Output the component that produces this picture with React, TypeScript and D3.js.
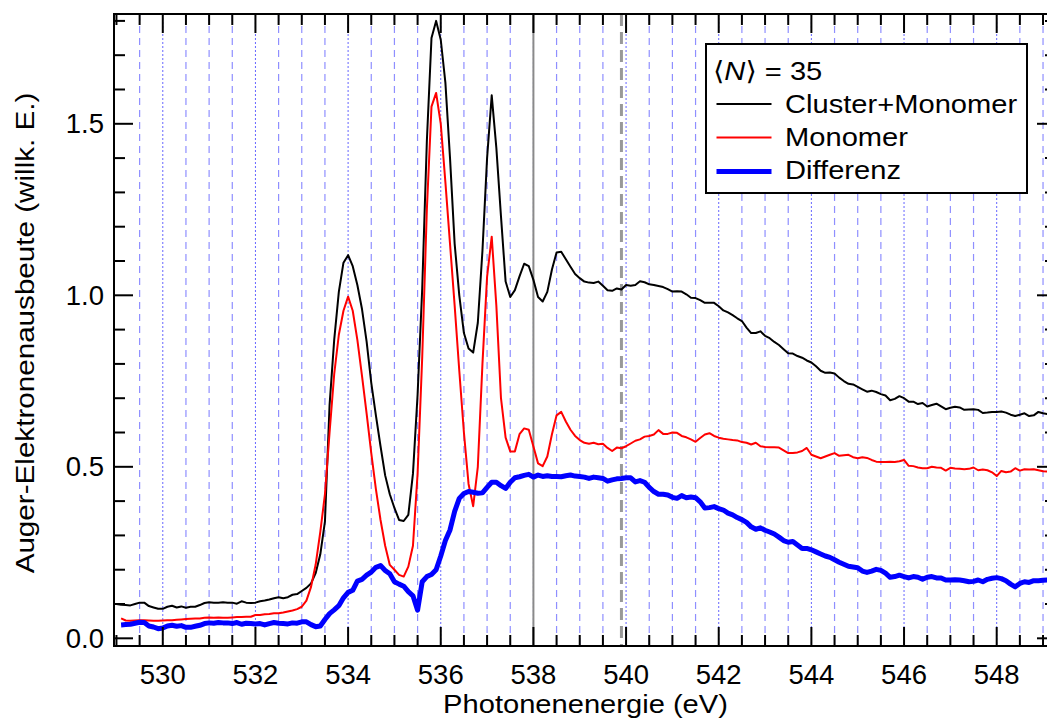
import React from "react";
import * as d3 from "d3";

// Sampling grid (eV): first energy and step
const E_START = 528.9;
const E_STEP = 0.1;

// Cluster+Monomer (black)
const clusterMonomer: (number | null)[] = [
  0.100,
  0.100, 0.098, 0.097, 0.096, 0.100, 0.104, 0.104, 0.094, 0.090, 0.086, // 529.0-529.9
  0.086, 0.092, 0.095, 0.090, 0.093, 0.089, 0.092, 0.092, 0.097, 0.103, // 530
  0.105, 0.104, 0.104, 0.105, 0.104, 0.104, 0.101, 0.108, 0.104, 0.103, // 531
  0.104, 0.108, 0.110, 0.113, 0.117, 0.120, 0.117, 0.120, 0.127, 0.129, // 532
  0.138, 0.147, 0.160, 0.190, 0.245, 0.340, 0.680, 0.870, 1.010, 1.095, // 533
  1.117, 1.085, 1.030, 0.960, 0.865, 0.745, 0.650, 0.560, 0.475, 0.420, // 534
  0.380, 0.345, 0.342, 0.360, 0.480, 0.710, 1.020, 1.450, 1.750, 1.800, // 535
  1.745, 1.620, 1.400, 1.150, 1.000, 0.890, 0.845, 0.833, 0.920, 1.130, // 536
  1.400, 1.583, 1.430, 1.230, 1.040, 0.995, 1.015, 1.055, 1.092, 1.085, // 537
  1.045, 0.995, 0.982, 1.010, 1.075, 1.125, 1.127, 1.105, 1.083, 1.062, // 538
  1.050, 1.040, 1.037, 1.036, 1.040, 1.028, 1.015, 1.013, 1.020, 1.017, // 539
  1.030, 1.028, 1.030, 1.041, 1.038, 1.032, 1.030, 1.027, 1.024, 1.018, // 540
  1.011, 1.012, 1.011, 1.003, 0.993, 0.992, 0.986, 0.978, 0.978, 0.978, // 541
  0.968, 0.956, 0.950, 0.942, 0.933, 0.925, 0.906, 0.890, 0.890, 0.895, // 542
  0.882, 0.875, 0.864, 0.855, 0.843, 0.831, 0.830, 0.823, 0.818, 0.810, // 543
  0.804, 0.793, 0.780, 0.774, 0.775, 0.772, 0.760, 0.750, 0.742, 0.740, // 544
  0.733, 0.726, 0.719, 0.722, 0.718, 0.712, 0.708, 0.694, 0.698, 0.706, // 545
  0.700, 0.690, 0.690, 0.683, 0.686, 0.676, 0.680, 0.684, 0.676, 0.668, // 546
  0.672, 0.675, 0.673, 0.666, 0.667, 0.668, 0.666, 0.657, 0.658, 0.660, // 547
  0.660, 0.661, 0.658, 0.652, 0.648, 0.652, 0.656, 0.648, 0.650, 0.660, // 548
  0.656, 0.654, 0.652, 0.655, // 549.0-549.3
];

// Monomer (red)
const monomer: (number | null)[] = [
  null,
  null, 0.058, 0.052, 0.051, 0.052, 0.053, 0.053, 0.052, 0.051, 0.051, // 529
  0.052, 0.053, 0.053, 0.054, 0.055, 0.056, 0.057, 0.058, 0.058, 0.060, // 530
  0.061, 0.060, 0.061, 0.060, 0.060, 0.061, 0.062, 0.062, 0.063, 0.063, // 531
  0.068, 0.068, 0.070, 0.071, 0.073, 0.073, 0.075, 0.078, 0.081, 0.085, // 532
  0.092, 0.110, 0.150, 0.215, 0.310, 0.420, 0.600, 0.770, 0.885, 0.955, // 533
  0.996, 0.955, 0.870, 0.765, 0.655, 0.540, 0.435, 0.345, 0.270, 0.214, // 534
  0.200, 0.185, 0.180, 0.209, 0.270, 0.480, 0.820, 1.250, 1.550, 1.590, // 535
  1.500, 1.330, 1.150, 0.970, 0.780, 0.600, 0.450, 0.385, 0.500, 0.800, // 536
  1.054, 1.171, 0.970, 0.700, 0.585, 0.545, 0.545, 0.595, 0.612, 0.608, // 537
  0.559, 0.510, 0.502, 0.530, 0.595, 0.650, 0.660, 0.632, 0.608, 0.590, // 538
  0.578, 0.570, 0.567, 0.570, 0.566, 0.567, 0.555, 0.546, 0.556, 0.554, // 539
  0.560, 0.568, 0.576, 0.580, 0.588, 0.590, 0.594, 0.607, 0.596, 0.596, // 540
  0.600, 0.599, 0.590, 0.586, 0.580, 0.573, 0.584, 0.594, 0.598, 0.590, // 541
  0.585, 0.582, 0.580, 0.578, 0.577, 0.572, 0.570, 0.565, 0.570, 0.560, // 542
  0.558, 0.557, 0.557, 0.556, 0.548, 0.540, 0.540, 0.542, 0.546, 0.555, // 543
  0.535, 0.530, 0.525, 0.530, 0.535, 0.540, 0.532, 0.534, 0.535, 0.528, // 544
  0.525, 0.528, 0.526, 0.520, 0.515, 0.514, 0.514, 0.515, 0.514, 0.516, // 545
  0.520, 0.503, 0.502, 0.498, 0.496, 0.496, 0.500, 0.498, 0.497, 0.489, // 546
  0.497, 0.495, 0.494, 0.493, 0.494, 0.498, 0.490, 0.492, 0.490, 0.484, // 547
  0.473, 0.488, 0.484, 0.486, 0.496, 0.489, 0.493, 0.492, 0.493, 0.490, // 548
  0.487, 0.486, 0.488, 0.487, // 549
];

// Differenz (blue)
const differenz: (number | null)[] = [
  null,
  null, 0.039, 0.040, 0.041, 0.044, 0.047, 0.046, 0.036, 0.033, 0.028, // 529
  0.030, 0.036, 0.038, 0.035, 0.037, 0.032, 0.032, 0.035, 0.038, 0.043, // 530
  0.045, 0.044, 0.046, 0.045, 0.045, 0.043, 0.046, 0.041, 0.044, 0.043, // 531
  0.042, 0.043, 0.039, 0.043, 0.046, 0.044, 0.043, 0.042, 0.045, 0.044, // 532
  0.048, 0.048, 0.040, 0.034, 0.036, 0.055, 0.072, 0.083, 0.095, 0.118, // 533
  0.134, 0.140, 0.167, 0.172, 0.184, 0.193, 0.207, 0.212, 0.198, 0.188, // 534
  0.165, 0.158, 0.152, 0.136, 0.124, 0.082, 0.165, 0.180, 0.186, 0.200, // 535
  0.240, 0.285, 0.316, 0.370, 0.408, 0.422, 0.428, 0.426, 0.423, 0.424, // 536
  0.440, 0.455, 0.455, 0.445, 0.437, 0.455, 0.468, 0.471, 0.475, 0.478, // 537
  0.470, 0.476, 0.472, 0.474, 0.472, 0.472, 0.471, 0.474, 0.476, 0.473, // 538
  0.472, 0.470, 0.466, 0.470, 0.468, 0.466, 0.458, 0.462, 0.465, 0.466, // 539
  0.468, 0.468, 0.456, 0.460, 0.455, 0.440, 0.428, 0.420, 0.420, 0.418, // 540
  0.411, 0.408, 0.416, 0.410, 0.412, 0.410, 0.398, 0.380, 0.381, 0.384, // 541
  0.378, 0.374, 0.365, 0.360, 0.352, 0.346, 0.338, 0.325, 0.318, 0.322, // 542
  0.315, 0.310, 0.304, 0.295, 0.285, 0.280, 0.282, 0.272, 0.262, 0.262, // 543
  0.258, 0.252, 0.246, 0.240, 0.236, 0.229, 0.222, 0.216, 0.210, 0.208, // 544
  0.206, 0.196, 0.192, 0.196, 0.201, 0.198, 0.190, 0.178, 0.180, 0.184, // 545
  0.180, 0.176, 0.180, 0.178, 0.172, 0.178, 0.180, 0.176, 0.176, 0.170, // 546
  0.170, 0.171, 0.170, 0.168, 0.165, 0.166, 0.170, 0.165, 0.172, 0.175, // 547
  0.177, 0.174, 0.168, 0.158, 0.150, 0.160, 0.165, 0.163, 0.168, 0.168, // 548
  0.169, 0.170, 0.172, 0.172, // 549
];

const xMajorTicks = [530, 532, 534, 536, 538, 540, 542, 544, 546, 548];
const yMajorTicks = [0, 0.5, 1.0, 1.5];
const yTickLabels = ["0.0", "0.5", "1.0", "1.5"];
const markerSolid = 538.0;
const markerDashed = 539.9;

const seriesDefs = [
  { name: "Cluster+Monomer", values: clusterMonomer, color: "#000000", width: 2 },
  { name: "Monomer", values: monomer, color: "#ff0000", width: 2 },
  { name: "Differenz", values: differenz, color: "#0000ff", width: 5 },
];

const W = 1047;
const H = 718;
const L = 114, R = 1056, T = 14, B = 646;

export default function App() {
  const x = d3.scaleLinear().domain([528.947, 549.28]).range([L, R]);
  const y = d3.scaleLinear().domain([-0.0224, 1.8201]).range([B, T]);

  const minorX = d3.range(529, 549.01, 0.5).map((v) => +v.toFixed(1));
  const minorY = d3.range(0, 1.81, 0.1).map((v) => +v.toFixed(1));
  const isMajorX = (v: number) => Math.abs(v / 2 - Math.round(v / 2)) < 1e-6;
  const isMajorY = (v: number) => Math.abs(v * 2 - Math.round(v * 2)) < 1e-6;

  const lineGen = d3
    .line<[number, number | null]>()
    .defined((d) => d[1] !== null)
    .x((d) => x(d[0]))
    .y((d) => y(d[1] as number));

  const font = "'Liberation Sans', Arial, Helvetica, sans-serif";
  const gridX = minorX.filter((v) => v >= 529.5);

  return (
    <div style={{ position: "absolute", left: 0, top: 0 }}>
      <svg width={W} height={H} style={{ display: "block", background: "#fff" }} fontFamily={font}>
        <defs>
          <clipPath id="plotclip">
            <rect x={L} y={T} width={R - L} height={B - T} />
          </clipPath>
        </defs>
        {/* grid */}
        {gridX.map((v) =>
          isMajorX(v) ? (
            <line key={"g" + v} x1={x(v)} x2={x(v)} y1={T} y2={B} stroke="#6666ff" strokeWidth={1} strokeDasharray="2,2" />
          ) : (
            <line key={"g" + v} x1={x(v)} x2={x(v)} y1={T} y2={B} stroke="#8f8fff" strokeWidth={1.2} strokeDasharray="7,5" />
          )
        )}
        {/* marker lines */}
        <line x1={x(markerSolid)} x2={x(markerSolid)} y1={T} y2={B} stroke="#8a8a8a" strokeWidth={2} />
        <line x1={x(markerDashed)} x2={x(markerDashed)} y1={T} y2={B} stroke="#999999" strokeWidth={3} strokeDasharray="12,6" />
        {/* curves */}
        <g clipPath="url(#plotclip)">
          {seriesDefs.map((s) => (
            <path
              key={s.name}
              d={lineGen(s.values.map((v, i) => [E_START + E_STEP * i, v] as [number, number | null])) || ""}
              fill="none"
              stroke={s.color}
              strokeWidth={s.width}
              strokeLinejoin="round"
            />
          ))}
        </g>
        {/* frame */}
        <line x1={L} x2={L} y1={T - 1} y2={B + 1} stroke="#000" strokeWidth={2} />
        <line x1={R} x2={R} y1={T - 1} y2={B + 1} stroke="#000" strokeWidth={2} />
        <line x1={L - 1} x2={R + 1} y1={T} y2={T} stroke="#000" strokeWidth={2} />
        <line x1={L - 1} x2={R + 1} y1={B} y2={B} stroke="#000" strokeWidth={2} />
        {/* x ticks */}
        {minorX.map((v) => {
          const len = isMajorX(v) ? 19 : 11;
          return (
            <g key={"xt" + v}>
              <line x1={x(v)} x2={x(v)} y1={B} y2={B - len} stroke="#000" strokeWidth={2} />
              <line x1={x(v)} x2={x(v)} y1={T} y2={T + len} stroke="#000" strokeWidth={2} />
            </g>
          );
        })}
        {xMajorTicks.map((v) => (
          <text key={"xl" + v} x={x(v)} y={684} textAnchor="middle" fontSize={27.5} fill="#000">
            {v}
          </text>
        ))}
        {/* y ticks */}
        {minorY.map((v) => {
          const len = isMajorY(v) ? 19 : 11;
          return (
            <g key={"yt" + v}>
              <line x1={L} x2={L + len} y1={y(v)} y2={y(v)} stroke="#000" strokeWidth={2} />
              <line x1={R} x2={R - len} y1={y(v)} y2={y(v)} stroke="#000" strokeWidth={2} />
            </g>
          );
        })}
        {yMajorTicks.map((v, i) => (
          <text key={"yl" + v} x={104} y={y(v) + 9.5} textAnchor="end" fontSize={27.5} fill="#000">
            {yTickLabels[i]}
          </text>
        ))}
        {/* axis labels */}
        <text transform={`translate(585.5,713) scale(1.12,1)`} textAnchor="middle" fontSize={26} fill="#000">
          Photonenenergie (eV)
        </text>
        <text transform={`translate(34,333) rotate(-90) scale(1.14,1)`} textAnchor="middle" fontSize={26} fill="#000">
          Auger-Elektronenausbeute (willk. E.)
        </text>
        {/* legend */}
        <rect x={706} y={44} width={321} height={149} fill="#fff" stroke="#000" strokeWidth={2} />
        <text transform="translate(713,80) scale(1.12,1)" fontSize={26} fill="#000">
          <tspan fontFamily="'DejaVu Sans', sans-serif">⟨</tspan>
          <tspan fontStyle="italic">N</tspan>
          <tspan fontFamily="'DejaVu Sans', sans-serif">⟩</tspan>
          <tspan> = 35</tspan>
        </text>
        {seriesDefs.map((s, i) => {
          const ly = [104, 137.5, 171.5][i];
          const ty = [113, 146, 179][i];
          return (
            <g key={"lg" + s.name}>
              <line x1={716.5} x2={771.5} y1={ly} y2={ly} stroke={s.color} strokeWidth={s.width} />
              <text transform={`translate(785,${ty}) scale(1.12,1)`} fontSize={26} fill="#000">
                {s.name}
              </text>
            </g>
          );
        })}
      </svg>
    </div>
  );
}
